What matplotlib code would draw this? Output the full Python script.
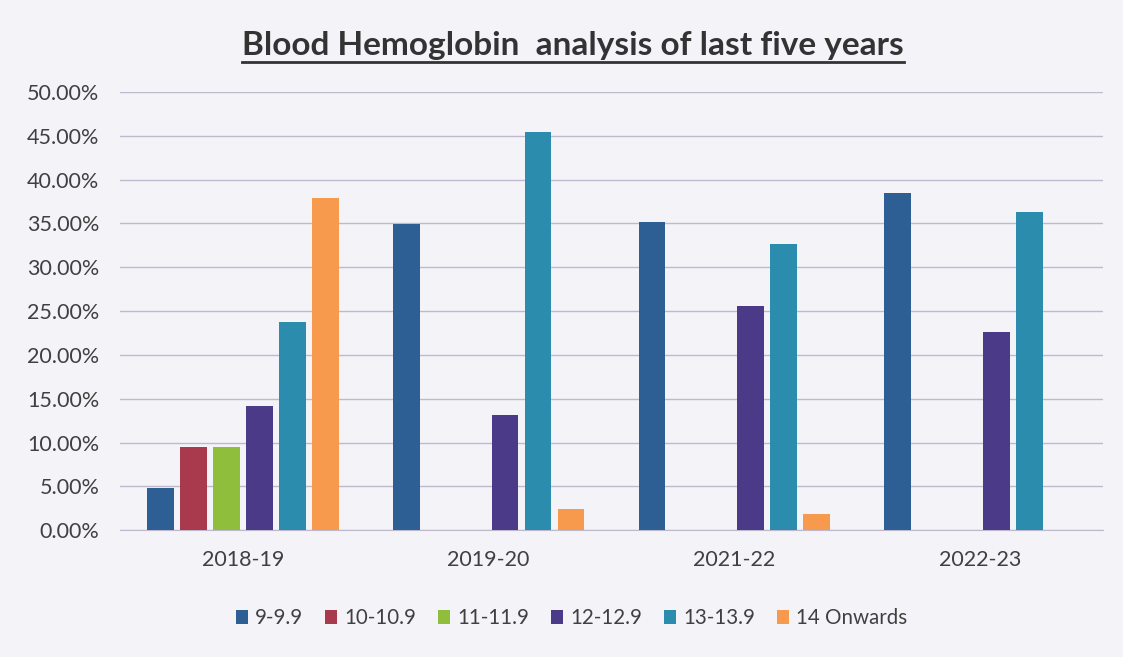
import matplotlib.pyplot as plt
import numpy as np
from matplotlib.lines import Line2D

plt.rcParams['font.family'] = ['Lato', 'DejaVu Sans']

# data (percent)
years = ['2018-19', '2019-20', '2021-22', '2022-23']
ranges = ['9-9.9', '10-10.9', '11-11.9', '12-12.9', '13-13.9', '14 Onwards']
values = {
    '9-9.9':      [4.8, 34.9, 35.2, 38.5],
    '10-10.9':    [9.5, 0, 0, 0],
    '11-11.9':    [9.5, 0, 0, 0],
    '12-12.9':    [14.2, 13.1, 25.6, 22.6],
    '13-13.9':    [23.7, 45.4, 32.7, 36.3],
    '14 Onwards': [37.9, 2.4, 1.8, 0],
}
colors = ['#2D5E94', '#A93A4E', '#8EBE3C', '#4A3A88', '#2B8CAE', '#F89A4E']

bg = '#F4F3F8'
fig = plt.figure(figsize=(11.23, 6.57), dpi=100, facecolor=bg)
ax = fig.add_axes([0.107, 0.193, 0.875, 0.667], facecolor=bg)

x = np.arange(len(years))
step = 0.134
width = 0.108
for i, r in enumerate(ranges):
    offs = (i - 2.5) * step
    ax.bar(x + offs, np.array(values[r]) / 100, width, color=colors[i], label=r, zorder=3)

ax.set_xlim(-0.5, 3.5)
ax.set_ylim(0, 0.5)
ax.set_yticks(np.arange(0, 0.501, 0.05))
ax.set_yticklabels([f'{v * 100:.2f}%' for v in np.arange(0, 0.501, 0.05)])
ax.grid(axis='y', color='#BEB9CD', linewidth=1, zorder=0)
for s in ['top', 'right', 'left']:
    ax.spines[s].set_visible(False)
ax.spines['bottom'].set_color('#BEB9CD')
ax.set_xticks(x)
ax.set_xticklabels(years)
ax.tick_params(axis='both', length=0, labelsize=15.5, colors='#404040')
ax.tick_params(axis='x', pad=14)
ax.tick_params(axis='y', pad=15)

# title, underlined
t = fig.text(0.51, 0.931, 'Blood Hemoglobin  analysis of last five years', ha='center', va='center',
             fontsize=24, fontweight='bold', color='#333333')
fig.canvas.draw()
bb = t.get_window_extent().transformed(fig.transFigure.inverted())
fig.add_artist(Line2D([bb.x0, bb.x1], [bb.y0 - 0.004, bb.y0 - 0.004], color='#333333', linewidth=2))

ax.legend(loc='center', bbox_to_anchor=(0.509, 0.059), bbox_transform=fig.transFigure, ncol=6,
          frameon=False, fontsize=14.8, handlelength=0.6, handleheight=0.6, handletextpad=0.35,
          columnspacing=1.05, labelcolor='#404040')

fig.savefig('out.png', facecolor=bg)
